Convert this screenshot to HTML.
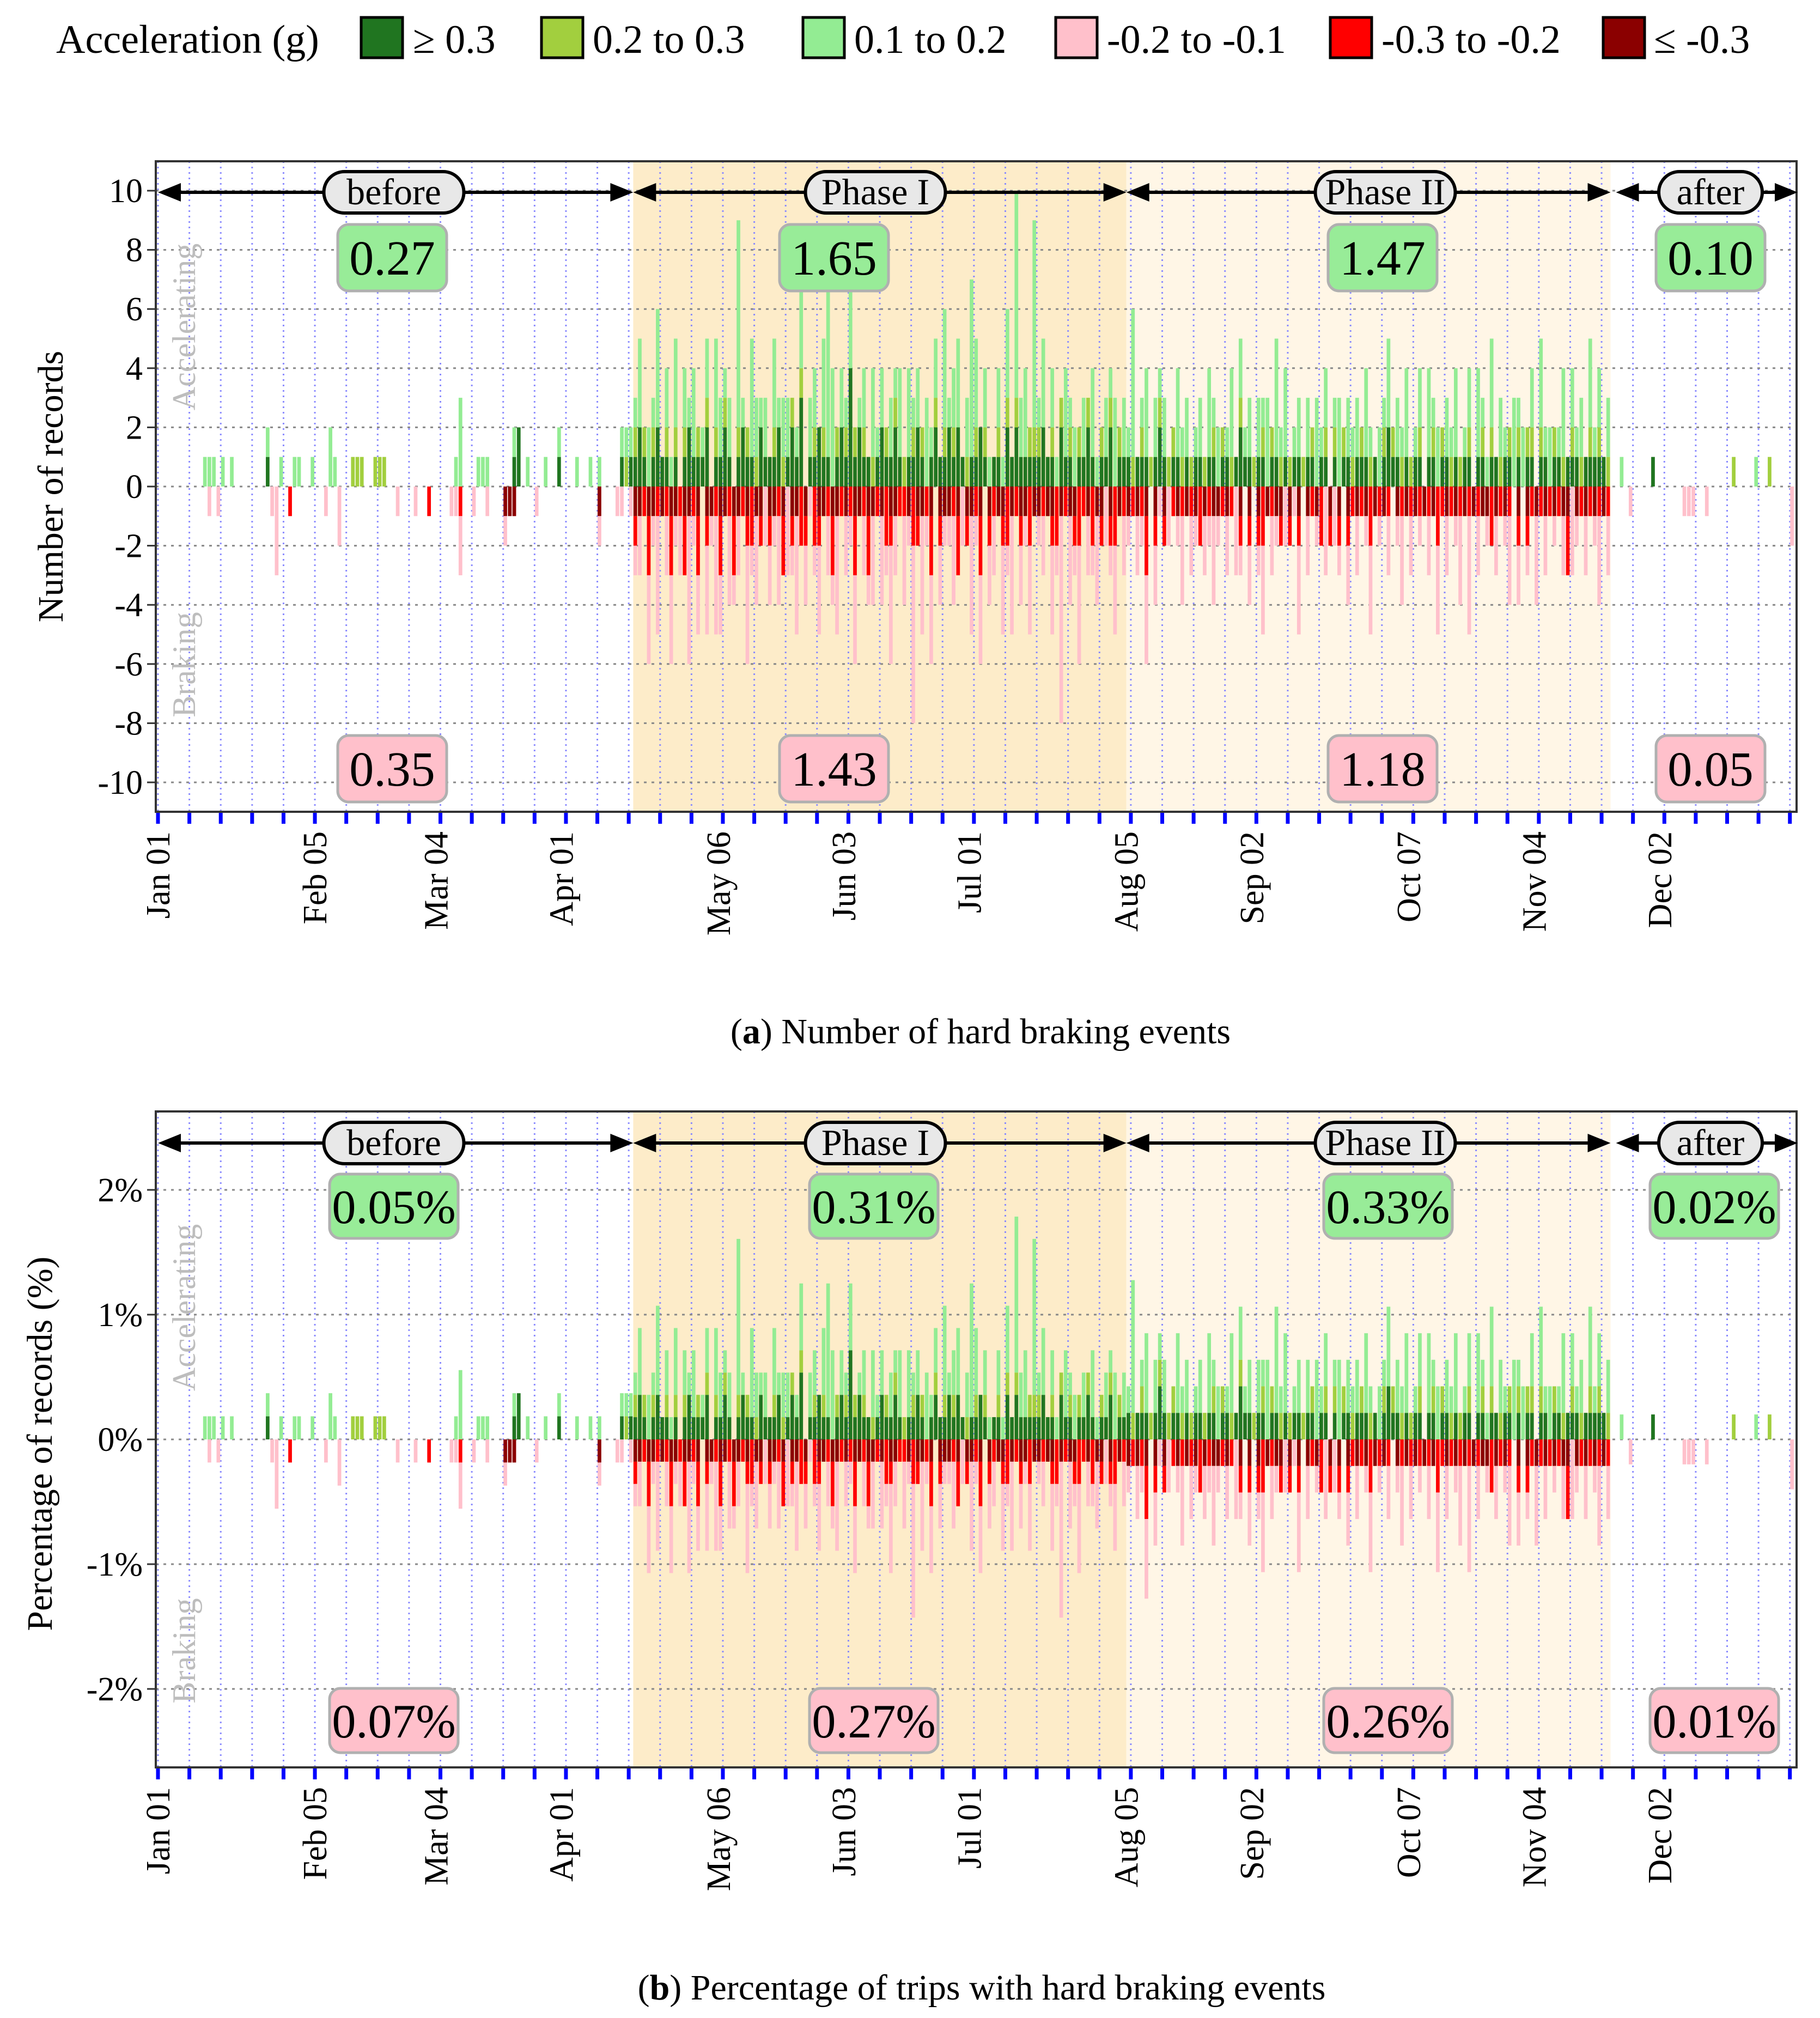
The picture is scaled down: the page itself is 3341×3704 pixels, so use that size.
<!DOCTYPE html>
<html><head><meta charset="utf-8"><title>Hard braking events</title>
<style>
html,body{margin:0;padding:0;background:#fff;}
svg{display:block;}
svg text, svg tspan{font-family:"Liberation Serif","DejaVu Serif",serif !important;}
</style></head>
<body>
<svg id="fig" width="3341" height="3704" viewBox="0 0 3341 3704" xmlns="http://www.w3.org/2000/svg" font-family="Liberation Serif, serif">
  <g id="legend">
    <text x="103" y="97" font-size="74">Acceleration (g)</text>
    <rect x="663" y="32" width="76" height="74" fill="#207520" stroke="#000" stroke-width="5"/>
    <text x="758" y="97" font-size="74">≥ 0.3</text>
    <rect x="994" y="32" width="76" height="74" fill="#a2cf3e" stroke="#000" stroke-width="5"/>
    <text x="1088" y="97" font-size="74">0.2 to 0.3</text>
    <rect x="1474" y="32" width="76" height="74" fill="#93ec93" stroke="#000" stroke-width="5"/>
    <text x="1568" y="97" font-size="74">0.1 to 0.2</text>
    <rect x="1938" y="32" width="76" height="74" fill="#ffc0cb" stroke="#000" stroke-width="5"/>
    <text x="2032" y="97" font-size="74">-0.2 to -0.1</text>
    <rect x="2442" y="32" width="76" height="74" fill="#ff0000" stroke="#000" stroke-width="5"/>
    <text x="2536" y="97" font-size="74">-0.3 to -0.2</text>
    <rect x="2943" y="32" width="76" height="74" fill="#8b0000" stroke="#000" stroke-width="5"/>
    <text x="3036" y="97" font-size="74">≤ -0.3</text>
  </g>
  <text x="1800" y="1915" font-size="66" text-anchor="middle">(<tspan font-weight="bold">a</tspan>) Number of hard braking events</text>
  <text x="1802" y="3670" font-size="66" text-anchor="middle">(<tspan font-weight="bold">b</tspan>) Percentage of trips with hard braking events</text>
</svg>
<script>
// ---------- data ----------
const monthTickDays = [0, 35, 62, 90, 125, 153, 181, 216, 244, 279, 307, 335];
const monthTickLabels = ["Jan 01","Feb 05","Mar 04","Apr 01","May 06","Jun 03","Jul 01","Aug 05","Sep 02","Oct 07","Nov 04","Dec 02"];
const phaseNames = ["before","Phase I","Phase II","after"];
const phaseStartDays = [0, 106, 216, 324];
const phaseEndDays = [106, 216, 324, 366];
const phaseAccMeans = ["0.27","1.65","1.47","0.10"];
const phaseBrkMeans = ["0.35","1.43","1.18","0.05"];
const phaseAccPct = ["0.05%","0.31%","0.33%","0.02%"];
const phaseBrkPct = ["0.07%","0.27%","0.26%","0.01%"];
const tripsPerDay = [540, 560, 470, 500];
const countTicks = [10,8,6,4,2,0,-2,-4,-6,-8,-10];
const countTickLabels = ["10","8","6","4","2","0","-2","-4","-6","-8","-10"];
const pctTicks = [2,1,0,-1,-2];
const pctTickLabels = ["2%","1%","0%","-1%","-2%"];
// sparse days [day, >=0.3, 0.2-0.3, 0.1-0.2]
const sparseAcc = [[10,0,0,1],[11,0,0,1],[12,0,0,1],[14,0,0,1],[16,0,0,1],[24,1,0,1],[27,0,0,1],[30,0,0,1],[31,0,0,1],[34,0,0,1],[38,0,0,2],[39,0,0,1],[43,0,1,0],[44,0,1,0],[45,0,1,0],[48,0,1,0],[49,0,1,0],[50,0,1,0],[66,0,0,1],[67,0,0,3],[71,0,0,1],[72,0,0,1],[73,0,0,1],[79,1,0,1],[80,2,0,0],[82,0,0,1],[86,0,0,1],[89,1,0,1],[93,0,0,1],[96,0,0,1],[98,0,0,1],[103,1,0,1],[104,0,1,1],[105,1,0,1],[326,0,0,1],[333,1,0,0],[351,0,1,0],[356,0,0,1],[359,0,1,0]];
// sparse days [day, <=-0.3, -0.3..-0.2, -0.2..-0.1]
const sparseBrk = [[11,0,0,1],[13,0,0,1],[25,0,0,1],[26,0,0,3],[29,0,1,0],[37,0,0,1],[40,0,0,2],[53,0,0,1],[57,0,0,1],[60,0,1,0],[65,0,0,1],[66,0,0,1],[67,0,1,2],[70,0,0,1],[73,0,0,1],[77,1,0,1],[78,1,0,0],[79,1,0,0],[84,0,0,1],[98,1,0,1],[102,0,0,1],[103,0,0,1],[105,0,0,1],[328,0,0,1],[340,0,0,1],[341,0,0,1],[342,0,0,1],[345,0,0,1],[364,0,0,2]];
// dense daily counts for days 106..323 (one digit per day)
const denseAccHi  = "1210121101"+"0121112011"+"2101211021"+"1120121301"+"1211012141"+"2110121121"+"0112101211"+"2121011210"+"1102121111"+"1211021101"+"1210112011"+
                    "1011101210"+"1101011011"+"0110121101"+"1011010110"+"1101101011"+"0111010121"+"1010110110"+"1101011011"+"0110110101"+"1011011011"+"10111110";
const denseAccMid = "1010100101"+"0100101010"+"1001010100"+"0101010100"+"1010010101"+"0101001010"+"1010100101"+"0100101010"+"0101010011"+"1001010101"+"0100101010"+
                    "0101010101"+"1010100101"+"0101010010"+"1010101001"+"0100101010"+"1010100101"+"0101010010"+"1010101001"+"0101010101"+"1010010101"+"01010101";
const denseAccLow = "1302140213"+"0213012032"+"1207104212"+"0312201302"+"2036402130"+"1203120213"+"0312031204"+"1230263021"+"0213072307"+"1302103120"+"2031021302"+
                    "1501302120"+"0312012031"+"2013021202"+"1304130120"+"2031201302"+"1203102130"+"2130120312"+"0213012031"+"1302103120"+"2031201302"+"12031202";
const denseBrkHi  = "1101101011"+"0110101101"+"1011010110"+"1101011010"+"0110110101"+"1011010110"+"0101101011"+"1010110101"+"0110101101"+"1011010110"+"0101101010"+
                    "1010101010"+"0101010101"+"1010010101"+"0101101010"+"1010010101"+"0101010100"+"1010101010"+"0101010101"+"1010100101"+"0101010110"+"10101010";
const denseBrkMid = "1012010120"+"1201201012"+"0120112010"+"1012010210"+"2101201012"+"0120102101"+"1021012010"+"0120101201"+"1012011020"+"0101201012"+"1020101201"+
                    "0101201010"+"1010102010"+"0101010101"+"2010101010"+"0102010101"+"1010201010"+"0101010102"+"1010101010"+"0201010101"+"1010101020"+"01010101";
const denseBrkLow = "1203140231"+"2051203142"+"0312041302"+"2130314021"+"1302140213"+"0213031420"+"3160413021"+"1302041302"+"2031402130"+"1203170314"+"0213021302"+
                    "1021302102"+"0130210213"+"1020310201"+"3021020130"+"2010302102"+"0201301020"+"1302010203"+"0201304020"+"1020130201"+"0302010203"+"10201302";

// ---------- expand ----------
const NDAYS = 366, DENSE0 = 106;
function blank(){ return new Array(NDAYS).fill(0); }
const acc = [blank(), blank(), blank()];
const brk = [blank(), blank(), blank()];
sparseAcc.forEach(r => { for (let k=0;k<3;k++) acc[k][r[0]] += r[k+1]; });
sparseBrk.forEach(r => { for (let k=0;k<3;k++) brk[k][r[0]] += r[k+1]; });
[denseAccHi, denseAccMid, denseAccLow].forEach((s,k) => { for (let i=0;i<s.length;i++) acc[k][DENSE0+i] = +s[i]; });
[denseBrkHi, denseBrkMid, denseBrkLow].forEach((s,k) => { for (let i=0;i<s.length;i++) brk[k][DENSE0+i] = +s[i]; });

// ---------- drawing ----------
const NS = "http://www.w3.org/2000/svg";
const svg = document.getElementById("fig");
const FONT = "Liberation Serif, DejaVu Serif, serif";
const accColors = ["#207520","#a2cf3e","#93ec93"];
const brkColors = ["#8b0000","#ff0000","#ffc0cb"];
const X0 = 290, DAYW = 8.23, PL = 286, PR = 3298;
function xDay(d){ return X0 + d*DAYW; }
function mk(tag, attrs, parent){ const e = document.createElementNS(NS, tag); for (const k in attrs) e.setAttribute(k, attrs[k]); if (tag==="text") e.setAttribute("font-family", FONT); (parent||svg).appendChild(e); return e; }
function segOf(d){ for (let i=0;i<phaseStartDays.length;i++) if (d>=phaseStartDays[i] && d<phaseEndDays[i]) return i; return 3; }

function drawPanel(cfg){
  const g = mk("g", {});
  
  
  const yv = v => cfg.y0 - v*cfg.pxPerUnit;
  const shades = [null, "#fdecc9", "#fff6e6", null];
  for (let i=0;i<4;i++) if (shades[i]) {
    const r = mk("rect", {x:xDay(phaseStartDays[i]), y:cfg.top, width:xDay(phaseEndDays[i])-xDay(phaseStartDays[i]), height:cfg.bottom-cfg.top, fill:shades[i]}, g);
    
    
  }
  for (let d=0; d<NDAYS; d+=7) {
    const x = xDay(d);
    const l = mk("line", {x1:x, x2:x, y1:cfg.top, y2:cfg.bottom, stroke:"#8c8cff", "stroke-width":3, "stroke-dasharray":"3 7"}, g);
    
    
    const t = mk("line", {x1:x, x2:x, y1:cfg.bottom, y2:cfg.bottom+22, stroke:"#0000ff", "stroke-width":7}, g);
    
    
  }
  cfg.ticks.forEach((v,i) => {
    const y = yv(v);
    const l = mk("line", {x1:PL, x2:PR, y1:y, y2:y, stroke:"#888", "stroke-width":3, "stroke-dasharray":"5 9"}, g);
    
    
    const t = mk("line", {x1:PL-16, x2:PL, y1:y, y2:y, stroke:"#333", "stroke-width":3}, g);
    
    
    const tx = mk("text", {x:PL-24, y:y+21, "font-size":62, "text-anchor":"end"}, g);
    tx.textContent = cfg.tickLabels[i];
    
    
  });
  const wa = mk("text", {x:0, y:0, "font-size":60, fill:"#bdbdbd", "text-anchor":"middle", transform:`translate(358,${cfg.accWordY}) rotate(-90)`}, g);
  wa.textContent = "Accelerating";
  
  
  const wb = mk("text", {x:0, y:0, "font-size":60, fill:"#bdbdbd", "text-anchor":"middle", transform:`translate(358,${cfg.brkWordY}) rotate(-90)`}, g);
  wb.textContent = "Braking";
  
  
  for (let d=0; d<NDAYS; d++) {
    const div = cfg.pct ? tripsPerDay[segOf(d)]/100 : 1;
    let base = 0;
    for (let k=0;k<3;k++) {
      const v = acc[k][d]/div; if (!v) continue;
      const b = mk("rect", {x:xDay(d)+0.5, y:yv(base+v), width:DAYW-1.5, height:v*cfg.pxPerUnit, fill:accColors[k]}, g);
      
      
      base += v;
    }
    base = 0;
    for (let k=0;k<3;k++) {
      const v = brk[k][d]/div; if (!v) continue;
      const b = mk("rect", {x:xDay(d)+0.5, y:yv(-base), width:DAYW-1.5, height:v*cfg.pxPerUnit, fill:brkColors[k]}, g);
      
      
      base += v;
    }
  }
  const fr = mk("rect", {x:PL, y:cfg.top, width:PR-PL, height:cfg.bottom-cfg.top, fill:"none", stroke:"#333", "stroke-width":4}, g);
  
  
  monthTickDays.forEach((d,i) => {
    const x = xDay(d);
    const t = mk("text", {x:0, y:0, "font-size":62, "text-anchor":"end", transform:`translate(${x+21},${cfg.bottom+36}) rotate(-90)`}, g);
    t.textContent = monthTickLabels[i];
    
    
  });
  const yt = mk("text", {x:0, y:0, "font-size":66, "text-anchor":"middle", transform:`translate(${cfg.titleX},${cfg.titleY}) rotate(-90)`}, g);
  yt.textContent = cfg.title;
  
  
  const pillW = [257, 257, 257, 190];
  const pillX = [723, 1607, 2543, 3140];
  for (let i=0;i<4;i++) {
    const xa = xDay(phaseStartDays[i]) + (i===3 ? 10 : 0), xb = Math.min(xDay(phaseEndDays[i]), PR+2);
    const ay = cfg.arrowY;
    const ln = mk("line", {x1:xa+30, x2:xb-30, y1:ay, y2:ay, stroke:"#000", "stroke-width":6}, g);
    
    
    const h1 = mk("polygon", {points:`${xa},${ay} ${xa+42},${ay-17} ${xa+42},${ay+17}`, fill:"#000"}, g);
    
    
    const h2 = mk("polygon", {points:`${xb},${ay} ${xb-42},${ay-17} ${xb-42},${ay+17}`, fill:"#000"}, g);
    
    
    const p = mk("rect", {x:pillX[i]-pillW[i]/2, y:ay-38, width:pillW[i], height:76, rx:38, fill:"#e8e8e8", stroke:"#000", "stroke-width":6}, g);
    
    
    const pt = mk("text", {x:pillX[i], y:ay+22, "font-size":68, "text-anchor":"middle"}, g);
    pt.textContent = phaseNames[i];
    
    
    const vx = cfg.boxX[i];
    const gb = mk("rect", {x:vx-cfg.boxW/2, y:cfg.accBoxY-cfg.boxH/2, width:cfg.boxW, height:cfg.boxH, rx:20, fill:"#98ec98", stroke:"#b0b0b0", "stroke-width":5}, g);
    
    
    const gt = mk("text", {x:vx, y:cfg.accBoxY+31, "font-size":cfg.valFont, "text-anchor":"middle"}, g);
    gt.textContent = cfg.accVals[i];
    
    
    const pb = mk("rect", {x:vx-cfg.boxW/2, y:cfg.brkBoxY-cfg.boxH/2, width:cfg.boxW, height:cfg.boxH, rx:20, fill:"#ffc0cb", stroke:"#b0b0b0", "stroke-width":5}, g);
    
    
    const ptx = mk("text", {x:vx, y:cfg.brkBoxY+31, "font-size":cfg.valFont, "text-anchor":"middle"}, g);
    ptx.textContent = cfg.brkVals[i];
    
    
  }
}

drawPanel({name:"chart-a-counts", top:296, bottom:1490, y0:893, pxPerUnit:54.3, pct:false,
  ticks:countTicks, tickLabels:countTickLabels, title:"Number of records", titleX:115, titleY:893,
  accWordY:600, brkWordY:1220, arrowY:353, boxX:[720,1531,2538,3140], boxW:200, boxH:122,
  accBoxY:473, brkBoxY:1411, accVals:phaseAccMeans, brkVals:phaseBrkMeans, valFont:90});
drawPanel({name:"chart-b-percent", top:2040, bottom:3244, y0:2642, pxPerUnit:229, pct:true,
  ticks:pctTicks, tickLabels:pctTickLabels, title:"Percentage of records (%)", titleX:95, titleY:2650,
  accWordY:2400, brkWordY:3030, arrowY:2098, boxX:[723,1604,2548,3147], boxW:236, boxH:118,
  accBoxY:2214, brkBoxY:3158, accVals:phaseAccPct, brkVals:phaseBrkPct, valFont:88});
</script>
</body></html>
